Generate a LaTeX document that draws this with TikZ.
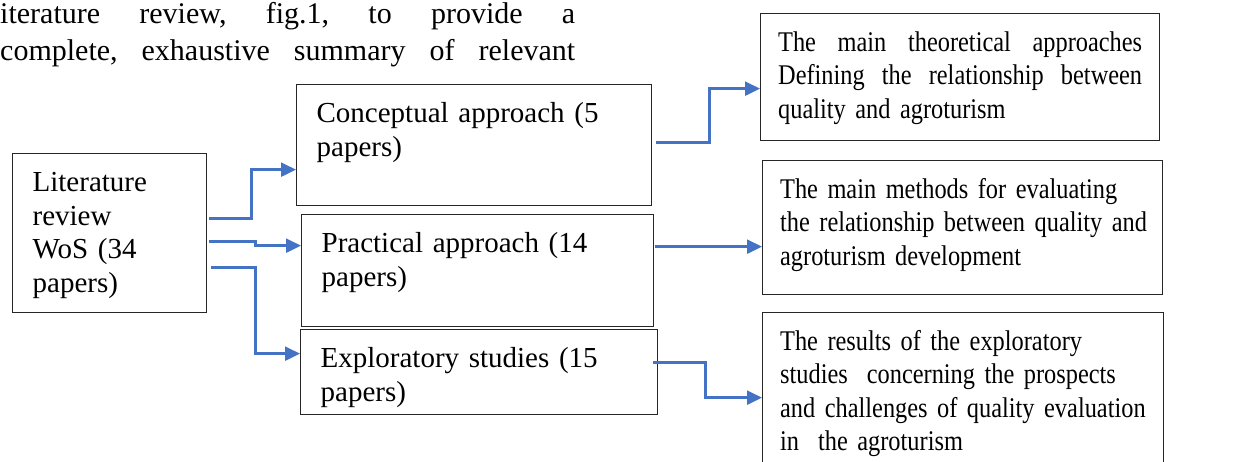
\documentclass[tikz,border=0pt]{standalone}
\usepackage{fontspec}
\setmainfont{Liberation Serif}
\newfontfamily\narrowserif[FakeStretch=0.855]{Liberation Serif}
\usepackage{xcolor}
\usepackage{tikz}
\usetikzlibrary{arrows.meta, positioning}
\definecolor{flowblue}{HTML}{4472C4}
% one unbroken line of a box text
\newcommand{\boxline}[1]{\makebox[\linewidth][l]{#1}}
\tikzset{
  box/.style={draw=black!85, line width=1.3pt, anchor=north west,
    inner xsep=20pt, inner ysep=18pt, text height=20pt, align=left,
    font={\fontsize{29}{33.5}\selectfont}},
  widebox/.style={box, inner xsep=17.5pt,
    font={\narrowserif\fontsize{28.5}{33.3}\selectfont}},
  flow/.style={draw=flowblue, line width=2.4pt, -{Triangle[length=15pt,width=14pt]}}
}

\begin{document}
\begin{tikzpicture}[x=1pt,y=-1pt]
  \useasboundingbox (0,0) rectangle (1251,462);
  \clip (0,0) rectangle (1251,462);
  % running text above the figure
  \node[anchor=base west, inner sep=0, text width=575pt, align=left,
    font={\fontsize{30}{37}\selectfont}] (intro) at (0,24)
    {\makebox[575pt]{iterature\hfill review,\hfill fig.1,\hfill to\hfill provide\hfill a}\\
     \makebox[575pt]{complete,\hfill exhaustive\hfill summary\hfill of\hfill relevant}};
  % source box
  \node[box, text width=154pt, text depth=103pt] (lit) at (12,153)
    {Literature\\review\\WoS (34\\papers)};
  % the three groups of papers
  \node[box, text width=315pt, text depth=65pt] (concept) at (296,84)
    {Conceptual approach (5\\papers)};
  \node[box, text width=312pt, text depth=56pt] (practical) at (301,214)
    {Practical approach (14\\papers)};
  \node[box, text width=317pt, text depth=29pt] (explore) at (300,329)
    {Exploratory studies (15\\papers)};
  % what each group gives
  \node[widebox, text width=364pt, text depth=71pt] (theory) at (760,13)
    {\makebox[\linewidth]{The\hfill main\hfill theoretical\hfill approaches}\\
     \makebox[\linewidth]{Defining\hfill the\hfill relationship\hfill between}\\
     \boxline{quality and agroturism}};
  \node[widebox, text width=365pt, text depth=78pt] (methods) at (762,160)
    {\boxline{The main methods for evaluating}\\
     \boxline{the relationship between quality and}\\
     \boxline{agroturism development}};
  \node[widebox, text width=366pt, text depth=114pt] (results) at (762,312)
    {\boxline{The results of the exploratory}\\
     \boxline{studies\ \ concerning the prospects}\\
     \boxline{and challenges of quality evaluation}\\
     \boxline{in\ \ the agroturism}};
  % elbow connectors
  \draw[flow] ([xshift=2pt,yshift=14.5pt]lit.east) -- ++(42,0) |- ([yshift=-24.5pt]concept.west);
  \draw[flow] ([xshift=2pt,yshift=-8.5pt]lit.east) -- ++(46,0) |- ([yshift=25pt]practical.west);
  \draw[flow] ([xshift=4pt,yshift=-34.5pt]lit.east) -- ++(44,0) |- ([yshift=18.5pt]explore.west);
  \draw[flow] ([xshift=4pt,yshift=2.5pt]concept.east) -- ++(53,0) |- ([yshift=-11.5pt]theory.west);
  \draw[flow] ([xshift=1pt,yshift=24pt]practical.east) -- ([yshift=-19pt]methods.west);
  \draw[flow] ([xshift=-5pt,yshift=9.5pt]explore.east) -- ++(52,0) |- (results.west);
\end{tikzpicture}
\end{document}
